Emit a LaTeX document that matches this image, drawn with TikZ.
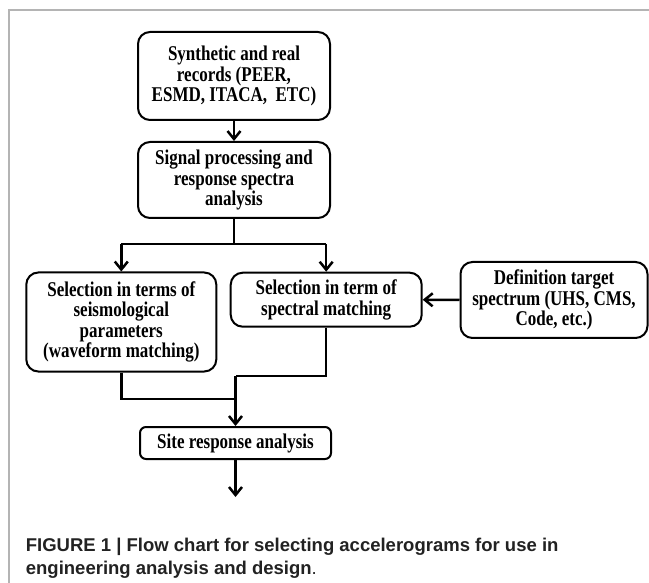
\documentclass[tikz,border=0pt]{standalone}
\usepackage{fontspec}
\setmainfont{Liberation Serif}
\newfontfamily\boxfont[FakeStretch=0.81]{Liberation Serif}
\newfontfamily\capfont{Liberation Sans}
\usetikzlibrary{arrows.meta}
\definecolor{framegray}{HTML}{B4B4B4}
\definecolor{captext}{HTML}{222222}
\tikzset{
  flowbox/.style={draw=black, line width=2pt, rounded corners=12pt, align=center,
    inner sep=0pt, font=\boxfont\bfseries\fontsize{21}{20.5}\selectfont},
  smallbox/.style={flowbox, rounded corners=6pt},
  conn/.style={line width=2.5pt, -{Straight Barb[length=8pt,width=13pt]}},
  plain/.style={line width=2.5pt},
  framel/.style={draw=framegray, line width=1.5pt},
  captxt/.style={anchor=base west, inner sep=0pt, text=captext, font=\capfont\fontsize{18.5}{24}\selectfont}
}
\begin{document}
\begin{tikzpicture}[x=1pt,y=-1pt]
\useasboundingbox (0,0) rectangle (649,583);
% frame
\draw[framel] (649,10) -- (9,10) -- (9,583);
% boxes
\node[flowbox, minimum width=192pt, minimum height=88pt] (rec) at (234,76)
  {Synthetic and real\\records (PEER,\\ESMD, ITACA,\ \ ETC)};
\node[flowbox, minimum width=192pt, minimum height=76pt] (sig) at (234,180)
  {Signal processing and\\response spectra\\analysis};
\node[flowbox, minimum width=190pt, minimum height=99pt] (seis) at (121.3,322)
  {Selection in terms of\\seismological\\parameters\\(waveform matching)};
\node[flowbox, minimum width=191pt, minimum height=54pt] (spec) at (326.2,299.7)
  {Selection in term of\\spectral matching};
\node[flowbox, minimum width=187pt, minimum height=76pt] (def) at (554,300)
  {Definition target\\spectrum (UHS, CMS,\\Code, etc.)};
\node[smallbox, minimum width=191pt, minimum height=32pt] (site) at (235.5,443)
  {Site response analysis};
% coordinates
\coordinate (split) at (234,244);
\coordinate (sl) at (121.3,244);
\coordinate (sr) at (326.2,244);
\coordinate (j1) at (121.3,399);
\coordinate (j2) at (326.2,376);
\coordinate (jm) at (235.5,376);
\coordinate (jb) at (235.5,399);
\coordinate (out) at (235.5,497);
% connectors
\draw[conn] (rec.south) -- (sig.north);
\draw[plain] (sig.south) -- (split);
\draw[plain] (sl) -- (sr);
\draw[conn] (sl) -- (seis.north);
\draw[conn] (sr) -- (spec.north);
\draw[conn] (def.west) -- (spec.east);
\draw[plain] (seis.south) -- (j1) -- (jb);
\draw[plain] (spec.south) -- (j2) -- (jm);
\draw[conn] (jm) -- (site.north);
\draw[conn] (site.south) -- (out);
% caption
\node[captxt] (cap1) at (25.7,551)
  {\bfseries FIGURE 1 | Flow chart for selecting accelerograms for use in};
\node[captxt] (cap2) at (25.7,574)
  {\bfseries engineering analysis and design{\mdseries.}};
\end{tikzpicture}
\end{document}
